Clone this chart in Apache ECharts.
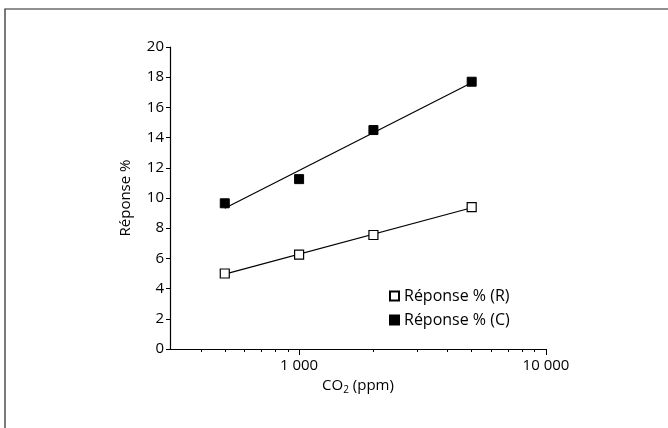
<!DOCTYPE html>
<html>
<head>
<meta charset="utf-8">
<script src="https://cdn.jsdelivr.net/npm/echarts@6/dist/echarts.min.js"></script>
<style>
  html, body { margin: 0; padding: 0; background: #fff; }
  #main { width: 668px; height: 428px; }
</style>
</head>
<body>
<div id="main"></div>
<script>
// concentrations CO2 (ppm)
var co2 = [500, 1000, 2000, 5000];
var reponseR = [5.0, 6.25, 7.55, 9.4];
var reponseC = [9.65, 11.25, 14.5, 17.7];
var majorTicks = [1000, 10000];
var minorTicks = [400, 500, 600, 700, 800, 900, 2000, 3000, 4000, 5000, 6000, 7000, 8000, 9000];

var fontFamily = 'Open Sans';
var fs = 15;

// droite de tendance logarithmique (moindres carrés sur log10 x)
function logFit(xs, ys) {
  var lx = xs.map(function (v) { return Math.log10(v); });
  var n = xs.length, mx = 0, my = 0;
  for (var i = 0; i < n; i++) { mx += lx[i] / n; my += ys[i] / n; }
  var sxy = 0, sxx = 0;
  for (var j = 0; j < n; j++) {
    sxy += (lx[j] - mx) * (ys[j] - my);
    sxx += (lx[j] - mx) * (lx[j] - mx);
  }
  var a = sxy / sxx, b = my - a * mx;
  var x0 = xs[0], x1 = xs[n - 1];
  return [[x0, a * Math.log10(x0) + b], [x1, a * Math.log10(x1) + b]];
}

function pairs(xs, ys) {
  return xs.map(function (x, i) { return [x, ys[i]]; });
}

var myChart = echarts.init(document.getElementById('main'));

var option = {
  backgroundColor: '#fff',
  animation: false,
  textStyle: { fontFamily: fontFamily, color: '#000' },
  graphic: [{
    type: 'rect',
    shape: { x: 5, y: 9, width: 700, height: 460 },
    style: { fill: 'none', stroke: '#222', lineWidth: 1.2 },
    silent: true
  }],
  grid: { left: 170, top: 47, width: 376, height: 302 },
  legend: {
    orient: 'vertical',
    left: 384,
    top: 283,
    itemWidth: 9,
    itemHeight: 9,
    itemGap: 8,
    icon: 'rect',
    textStyle: { fontFamily: fontFamily, fontSize: 16, color: '#000' },
    data: ['Réponse % (R)', 'Réponse % (C)']
  },
  xAxis: [{
    type: 'log',
    logBase: 10,
    min: 300,
    max: 10000,
    name: '{a|CO}{s|2}{a| (ppm)}',
    nameLocation: 'middle',
    nameGap: 27,
    nameTextStyle: {
      rich: {
        a: { fontFamily: fontFamily, fontSize: fs, color: '#000' },
        s: { fontFamily: fontFamily, fontSize: 10, color: '#000', verticalAlign: 'bottom', padding: [9, 0, 0, 0] }
      }
    },
    axisLine: { lineStyle: { color: '#000', width: 1.2 } },
    axisTick: { customValues: majorTicks, length: 6, lineStyle: { color: '#000' } },
    axisLabel: {
      customValues: majorTicks,
      fontSize: fs,
      color: '#000',
      margin: 9,
      formatter: function (v) { return String(Math.round(v)).replace(/\B(?=(\d{3})+(?!\d))/g, ' '); }
    },
    splitLine: { show: false }
  }, {
    type: 'log',
    logBase: 10,
    min: 300,
    max: 10000,
    position: 'bottom',
    axisLine: { show: false },
    axisTick: { customValues: minorTicks, length: 3, lineStyle: { color: '#000' } },
    axisLabel: { show: false },
    splitLine: { show: false }
  }],
  yAxis: {
    type: 'value',
    min: 0,
    max: 20,
    interval: 2,
    name: 'Réponse %',
    nameLocation: 'middle',
    nameGap: 37,
    nameTextStyle: { fontSize: fs, color: '#000' },
    axisLine: { show: true, lineStyle: { color: '#000', width: 1.2 } },
    axisTick: { show: true, length: 4, lineStyle: { color: '#000' } },
    axisLabel: { fontSize: fs, color: '#000', margin: 6 },
    splitLine: { show: false }
  },
  series: [{
    name: 'trendR',
    type: 'line',
    data: logFit(co2, reponseR),
    showSymbol: false,
    lineStyle: { color: '#000', width: 1.2 },
    z: 1,
    silent: true
  }, {
    name: 'trendC',
    type: 'line',
    data: logFit(co2, reponseC),
    showSymbol: false,
    lineStyle: { color: '#000', width: 1.2 },
    z: 1,
    silent: true
  }, {
    name: 'Réponse % (R)',
    type: 'scatter',
    data: pairs(co2, reponseR),
    symbol: 'rect',
    symbolSize: 9,
    itemStyle: { color: '#fff', borderColor: '#000', borderWidth: 1.2, opacity: 1 },
    z: 3
  }, {
    name: 'Réponse % (C)',
    type: 'scatter',
    data: pairs(co2, reponseC),
    symbol: 'rect',
    symbolSize: 9,
    itemStyle: { color: '#000', borderColor: '#000', borderWidth: 1, opacity: 1 },
    z: 3
  }]
};

myChart.setOption(option);
</script>
</body>
</html>
